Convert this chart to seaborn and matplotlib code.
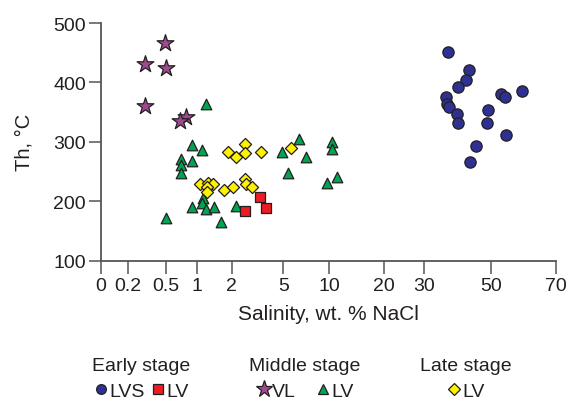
import numpy as np
import pandas as pd
import matplotlib
matplotlib.use("Agg")
import matplotlib.pyplot as plt
from matplotlib.lines import Line2D
import seaborn as sns

# ---------------- data (salinity wt.% NaCl, Th °C) ----------------
early_lvs_sal = [37.0, 43.5, 42.6, 40.1, 36.4, 36.7, 37.4, 39.9, 40.1,
                 53.2, 54.4, 59.5, 49.1, 48.8, 54.6, 45.5, 43.8]
early_lvs_th = [451, 421, 404, 392, 376, 364, 359, 347, 331,
                380, 376, 385, 353, 331, 311, 293, 266]

early_lv_sal = [3.65, 2.77, 3.99]
early_lv_th = [207, 184, 188]

middle_vl_sal = [0.49, 0.33, 0.50, 0.33, 0.82, 0.72]
middle_vl_th = [467, 431, 424, 361, 342, 335]

middle_lv_sal = [1.25, 0.92, 1.14, 0.74, 0.92, 0.74, 0.74, 1.17, 1.14, 0.92,
                 1.25, 1.49, 0.50, 1.68, 2.25, 4.95, 6.74, 7.47, 5.46, 10.55,
                 10.55, 9.78, 11.35]
middle_lv_th = [364, 295, 286, 271, 268, 261, 247, 205, 197, 190,
                187, 190, 172, 165, 192, 283, 305, 275, 247, 299,
                287, 230, 240]

late_lv_sal = [2.77, 1.88, 2.25, 2.77, 3.69, 5.84, 1.08, 1.30, 1.47, 1.27,
               1.27, 1.79, 2.09, 2.77, 2.83, 3.18]
late_lv_th = [296, 282, 274, 281, 283, 290, 229, 231, 229, 223,
              215, 218, 224, 237, 229, 223]

x_tick_values = [0, 0.2, 0.5, 1, 2, 5, 10, 20, 30, 50, 70]
x_tick_labels = ["0", "0.2", "0.5", "1", "2", "5", "10", "20", "30", "50", "70"]
y_ticks = [100, 200, 300, 400, 500]

# ---------------- scale definition (piecewise axis) ----------------
_scale_pos = [0, 27.6, 65.3, 96.6, 131, 182.6, 228.6, 283.3, 323.6, 390, 455.3]
_sv = np.array([-1000.0] + x_tick_values + [1000.0])
_sp = np.array([-1000.0 * 138] + _scale_pos + [455.3 + 930 * 3.265])


def fwd(v):
    return np.interp(np.asarray(v, dtype=float), _sv, _sp)


def inv(p):
    return np.interp(np.asarray(p, dtype=float), _sp, _sv)


# ---------------- styling ----------------
sns.set_style("ticks")
plt.rcParams["font.family"] = ["Liberation Sans", "DejaVu Sans"]

C_BLUE = "#2E3192"
C_RED = "#ED1C24"
C_PURPLE = "#9E4A8E"
C_GREEN = "#00A551"
C_YELLOW = "#FFF200"
EDGE = "#231F20"

fig = plt.figure(figsize=(5.69, 4.02), dpi=100)
W, H = 569, 402
ax = fig.add_axes([100.7 / W, 1 - 261.5 / H, (556 - 100.7) / W, (261.5 - 24) / H])
ax.set_xscale("function", functions=(fwd, inv))

kw = dict(ax=ax, edgecolor=EDGE, linewidth=0.9, legend=False, zorder=3)
sns.scatterplot(x=middle_lv_sal, y=middle_lv_th, marker="^", s=58, color=C_GREEN, **kw)
sns.scatterplot(x=late_lv_sal, y=late_lv_th, marker="D", s=38, color=C_YELLOW, **kw)
sns.scatterplot(x=early_lv_sal, y=early_lv_th, marker="s", s=55, color=C_RED, **kw)
sns.scatterplot(x=early_lvs_sal, y=early_lvs_th, marker="o", s=66, color=C_BLUE, **kw)
sns.scatterplot(x=middle_vl_sal, y=middle_vl_th, marker="*", s=160, color=C_PURPLE, **kw)

ax.set_xlim(0, 70)
ax.set_ylim(100, 500)
ax.set_xticks(x_tick_values)
ax.set_xticklabels(x_tick_labels)
ax.set_yticks(y_ticks)
ax.minorticks_off()

for side in ["top", "right"]:
    ax.spines[side].set_visible(False)
for side in ["left", "bottom"]:
    ax.spines[side].set_color("#555555")
    ax.spines[side].set_linewidth(1.3)
ax.tick_params(axis="both", direction="out", length=9, width=1.1, color="#555555",
               labelsize=14, labelcolor="#231F20")
ax.tick_params(axis="y", pad=1.5)
ax.tick_params(axis="x", pad=3)

ax.set_xlabel("Salinity, wt. % NaCl", fontsize=15, color="#231F20", labelpad=7)
ax.set_ylabel("Th, °C", fontsize=14.5, color="#231F20", labelpad=14)

# ---------------- legends ----------------
def h(marker, color, ms):
    return Line2D([], [], marker=marker, linestyle="none", markersize=ms,
                  markerfacecolor=color, markeredgecolor=EDGE, markeredgewidth=0.9)


leg_kw = dict(loc="upper center", ncol=2, frameon=False, fontsize=14, title_fontsize=14,
              handlelength=0.75, handletextpad=0.05, borderpad=0,
              labelspacing=0.45, labelcolor="#231F20")

Y_LEG = 1 - 348 / H
l1 = fig.legend([h("o", C_BLUE, 7), h("s", C_RED, 6.5)], ["LVS", "LV"],
                title="Early stage", bbox_to_anchor=(141 / W, Y_LEG),
                columnspacing=0.3, **leg_kw)
l2 = fig.legend([h("*", C_PURPLE, 12.5), h("^", C_GREEN, 7)], ["VL", "LV"],
                title="Middle stage", bbox_to_anchor=(305 / W, Y_LEG),
                columnspacing=1.0, **leg_kw)
l3 = fig.legend([h("D", C_YELLOW, 6)], ["LV"],
                title="Late stage", bbox_to_anchor=(466 / W, Y_LEG),
                columnspacing=0.8, **leg_kw)
for lg in (l1, l2, l3):
    lg.get_title().set_color("#231F20")

fig.savefig("out.png", dpi=100)
